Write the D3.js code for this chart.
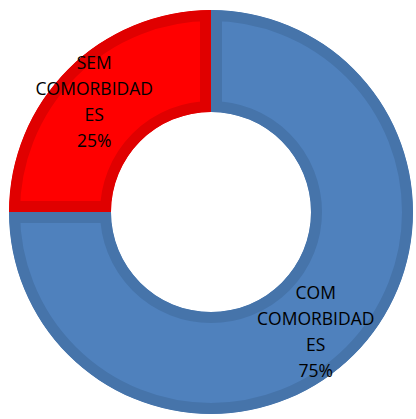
<!DOCTYPE html>
<html>
<head>
<meta charset="utf-8">
<script src="https://cdn.jsdelivr.net/npm/d3@7"></script>
<style>
  html, body { margin: 0; padding: 0; background: #fff; }
  svg { display: block; }
</style>
</head>
<body>
<div id="grafico"></div>
<script>
// dados do grafico (ordem: comeca no topo, sentido horario)
var categorias = ['COM COMORBIDADES', 'SEM COMORBIDADES'];
var valores = [75, 25];
var rotulos = [
    ['COM', 'COMORBIDAD', 'ES', '75%'],
    ['SEM', 'COMORBIDAD', 'ES', '25%']
];
var cores = ['#4f81bd', '#ff0000'];
var bordas = ['#4674aa', '#e00000'];

!function() {
    var width = 416, height = 419;
    var cx = 211, cy = 212;
    var rExt = 202, rInt = 100;

    var svg = d3.select('#grafico')
                .append('svg')
                  .attr('width', width)
                  .attr('height', height);

    var pie = d3.pie().sort(null).value(function(d) { return d; });
    var arc = d3.arc().innerRadius(rInt).outerRadius(rExt);
    var arcRotulo = d3.arc().innerRadius(158).outerRadius(158);

    var fatias = pie(valores);

    var defs = svg.append('defs');
    defs.selectAll('clipPath')
        .data(fatias).enter()
        .append('clipPath')
          .attr('id', function(d, i) { return 'clip' + i; })
        .append('path')
          .attr('d', arc);

    var g = svg.append('g')
        .attr('transform', 'translate(' + cx + ',' + cy + ')');

    // borda mais escura por dentro de cada fatia
    g.selectAll('path.fatia')
        .data(fatias).enter()
        .append('path')
          .attr('class', 'fatia')
          .attr('d', arc)
          .attr('fill', function(d, i) { return cores[i]; })
          .attr('stroke', function(d, i) { return bordas[i]; })
          .attr('stroke-width', 22)
          .attr('stroke-linejoin', 'miter')
          .attr('clip-path', function(d, i) { return 'url(#clip' + i + ')'; });

    var ajuste = [[-7, 8], [-5, 2]];
    var txt = g.selectAll('text')
        .data(fatias).enter()
        .append('text')
          .attr('text-anchor', 'middle')
          .style('font-family', '"Open Sans", sans-serif')
          .style('font-size', '17.5px')
          .attr('fill', '#000')
          .attr('transform', function(d, i) {
              var c = arcRotulo.centroid(d);
              return 'translate(' + (c[0] + ajuste[i][0]) + ',' + (c[1] + ajuste[i][1]) + ')';
          });

    txt.selectAll('tspan')
        .data(function(d, i) { return rotulos[i]; }).enter()
        .append('tspan')
          .attr('x', 0)
          .attr('y', function(d, j) { return (j - 1.5) * 26 + 6; })
          .text(function(d) { return d; });
}();
</script>
</body>
</html>
